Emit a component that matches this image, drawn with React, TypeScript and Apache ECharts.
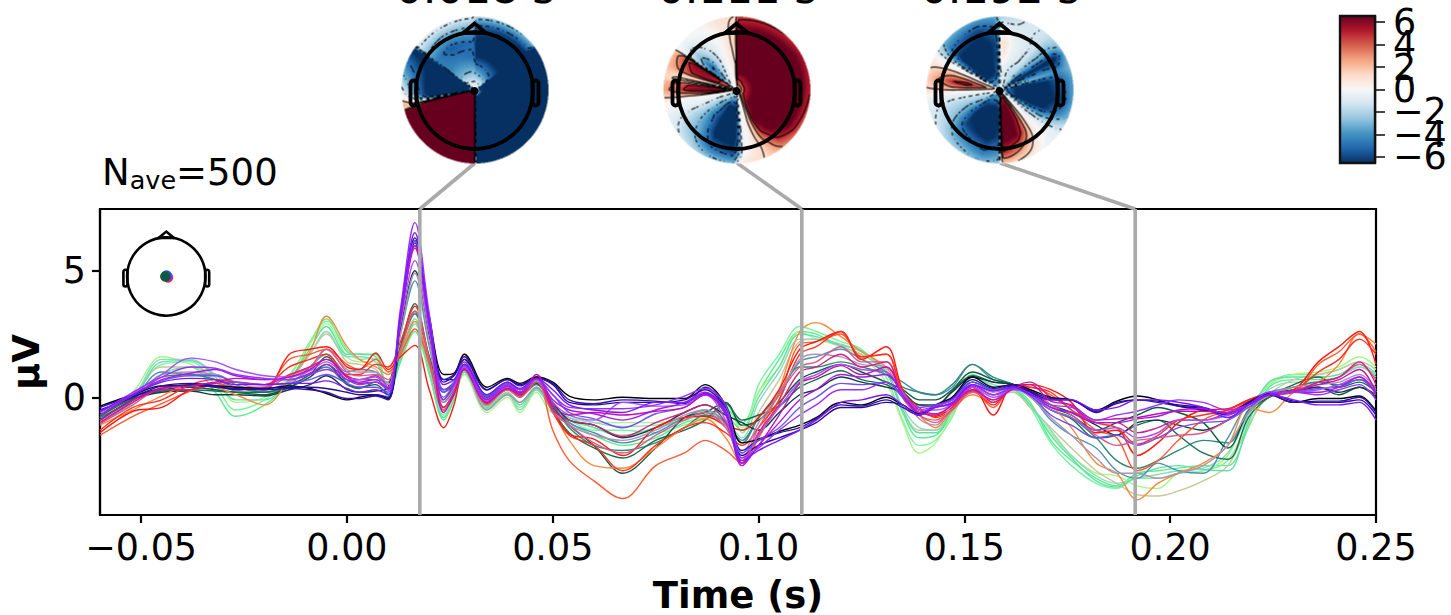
import React, { useEffect, useRef } from "react";
import * as echarts from "echarts";

const times = [-.06,-.052,-.045,-.038,-.032,-.027,-.02,-.014,-.009,-.005,0,.003,.007,.01,.013,.0165,.02,.0235,.026,.0285,.034,.039,.042,.046,.05,.054,.06,.067,.075,.082,.087,.092,.096,.1,.105,.11,.114,.12,.125,.131,.135,.139,.143,.147,.152,.157,.162,.166,.171,.176,.182,.187,.192,.197,.202,.208,.214,.219,.224,.23,.236,.241,.246,.25];

const green = [-1.0,-.2,.9,1.2,.2,-.75,-.3,.6,2.1,3.1,1.8,1.7,1.7,0,1.4,2.6,.9,-.9,-.1,1.1,-.35,.2,-.2,.4,-.4,-1,-1.5,-1.9,-1.6,-1.0,-.8,-.5,-1,.2,1.5,2.6,2.5,2,1.7,1.0,-.6,-1.6,-1.5,-.7,.5,.3,.3,-.2,-1.7,-2.5,-3.2,-3.5,-3.0,-2.9,-2.8,-2.7,-2.7,-1.2,.4,.7,.7,.8,1.2,.8];
const lightGreen = [-.9,0,1.3,1.4,.5,-.5,-.1,.8,2.2,3.0,1.9,1.5,1.55,-.1,1.6,3.0,1.1,-.7,0,1.0,-.5,.1,-.4,.3,-.5,-.9,-1.3,-1.3,-1.4,-1.1,-.9,-.3,-1.4,.5,1.7,2.8,2.6,2.2,1.9,.8,-.9,-1.9,-1.7,-.8,.7,.3,.3,-.4,-1.8,-2.7,-3.4,-3.6,-3.2,-3.2,-3.0,-2.9,-2.5,-.9,.5,.9,.9,1.1,1.4,1.1];
const lime = [-.8,.2,1.6,1.3,.7,-.2,0,.9,2.1,2.9,1.6,1.4,1.4,.2,1.6,3.1,1,-.8,-.1,.9,-.6,0,-.6,.2,-.6,-.6,-1.0,-1.0,-1.0,-.9,-.9,-.6,-1.2,.2,1.2,2.6,2.3,2,1.6,.6,-1.0,-2.2,-1.8,-.7,.6,.3,.2,-.4,-1.4,-2.3,-3.0,-3.1,-3.5,-3.6,-3.0,-2.9,-2.3,-.5,.5,.9,1,1.2,1.6,1.2];
const khaki = [-.8,.1,1.2,1.2,.9,.3,.1,.7,1.7,2.5,1.4,1.3,1.1,.4,1.8,3.3,1.3,-.4,.2,1.0,-.4,.2,-.3,.4,-.5,-.9,-1.2,-1.5,-1.2,-.9,-.7,-1.2,-1.8,-.6,.7,2.2,2.3,2,1.7,1,-.5,-1.3,-1.3,-.6,.2,.1,.2,-.4,-1.2,-2.0,-2.9,-3.4,-3.85,-3.9,-3.7,-3.3,-2.7,-1.1,.1,.7,.9,1.1,1.4,1.1];
const mint = [-.9,0,1.5,1.5,.9,.2,.1,.7,1.7,2.6,1.6,1.6,1.4,.3,1.7,3.1,1.2,-.6,.1,1,-.45,.1,-.5,.3,-.5,-.8,-1,-1.15,-1.1,-.9,-.6,-.9,-1.6,-.2,1,2.3,2.3,2.1,1.8,1.1,-.4,-1.2,-1.3,-.4,.8,.5,.3,-.3,-1.3,-2.3,-3.1,-3.4,-3.2,-3.05,-2.9,-2.8,-2.2,-.7,.3,.6,.6,.8,1.2,.9];
const seafoam = [-.9,-.1,1.4,1.45,.8,-.1,-.1,.7,1.9,2.8,1.7,1.7,1.6,.1,1.5,2.9,1,-.8,-.1,1.0,-.4,.15,-.3,.35,-.45,-.8,-1.2,-1.55,-1.2,-.9,-.55,-.7,-1.3,0,1.2,2.5,2.4,2.05,1.85,1.0,-.5,-1.4,-1.4,-.5,.9,.4,.3,-.3,-1.5,-2.4,-3.3,-3.55,-3.1,-2.8,-2.7,-2.85,-2.9,-1,.6,.8,.8,.9,1.3,.95];
const steel = [-1.0,-.1,1.0,.9,.9,.5,.2,.5,1.2,1.7,1.0,1.1,1,.5,2.5,4.6,2,0,.5,1.2,-.1,.4,.1,.55,-.2,-1,-1.4,-1.8,-1.4,-.8,-.5,-1,-1.8,-.8,.2,1.4,1.6,1.9,1.5,1.0,.6,.2,.1,.4,1.3,.7,.5,.1,-.9,-1.5,-2,-2.9,-3.2,-2.6,-2.9,-3,-1.6,-.2,.2,.4,.6,.5,.7,.3];
const tealGreen = [-.8,-.1,.8,.9,.7,.4,.2,.4,.9,1.2,.6,.7,.7,.6,2.0,3.3,1.6,-.2,.3,1.1,-.2,.35,.05,.5,-.3,-1.2,-1.9,-2.1,-1.8,-1.2,-.7,-1.0,-1.7,-.8,.1,1.2,1.2,1.4,1.2,.9,.4,.2,.1,.5,1.3,.8,.5,.1,-.5,-.8,-1.6,-2.5,-2.8,-2.5,-2.1,-1.7,-1.8,-.5,.1,.4,.6,.5,.7,.4];
const darkGreen = [-.7,0,.3,.4,.3,.2,.1,.4,.8,1.3,.5,.4,.5,.1,1.9,3.4,1.4,.3,.6,1.3,0,.5,.1,.55,-.4,-1.1,-1.9,-3,-2.0,-.8,-.6,-.2,-1.1,-.9,-.2,.7,1.0,1.3,1.0,.6,.3,-.1,-.1,.3,1.0,.7,.5,.1,-.4,-.7,-1.3,-1.0,-.7,-.4,-.6,-1.0,-2.0,-.6,0,.2,.4,.1,.4,.1];
const forest = [-.75,-.05,.25,.3,.25,.2,.2,.5,.9,1.6,.55,.35,.6,.3,2.0,3.7,1.6,.2,.5,1.3,.05,.5,.1,.6,-.5,-1.4,-2.0,-2.4,-1.7,-1.3,-.9,-.25,-.9,-.7,-.35,.4,.7,1.05,.7,.5,.1,-.3,-.35,.25,.85,.6,.5,.05,-.5,-.85,-1.6,-1.5,-1.1,-.9,-1.5,-2.2,-2.45,-.8,0,.5,.8,.4,.6,.2];
const darkTeal = [-.9,-.1,.2,.25,.1,.1,.05,.3,.5,.85,.3,.2,.25,.4,2.7,5,2.4,.7,.7,1.5,.1,.6,.3,.6,-.2,-.9,-1.1,-1.6,-1.2,-.6,-.3,-.7,-1.0,-1.3,-.6,.1,.3,.8,.6,.4,.2,-.3,-.3,.2,.8,.6,.5,.2,-.3,-.6,-1.1,-1.5,-1.0,-.9,-1.1,-1.3,-.9,-.3,.1,.3,.4,.2,.4,0];
const orange = [-1.1,-.5,.05,.5,.4,.1,-.3,.7,1.8,3.2,2.0,1.5,1.2,.9,1.8,3.0,1.4,-.5,.2,1.7,-.2,.5,.1,.7,-.5,-1.7,-2.7,-2.8,-2.0,-1.2,-.85,-1.6,-2.6,-1.5,.3,2.6,2.95,2.4,1.8,1.2,.1,-.7,-1.2,-.5,.1,-.2,.4,.3,-.3,-1.2,-2.6,-3.0,-4.05,-3.4,-3,-2.6,-1.9,-.4,-.6,.2,.6,1.3,2.5,2.1];
const orangeRed = [-1.5,-.75,-.25,.25,.55,.35,.4,1.5,1.7,1.9,1.3,1.1,1.5,1.0,1.7,2.7,1.3,-.5,.1,1.4,-.3,.45,.1,.7,-1.3,-2.5,-3.3,-4,-2.7,-2.2,-1.7,-2.1,-2.6,-1.6,-.1,2.1,2.2,2.5,1.6,1.7,0,-.7,-.9,-.5,.3,-.4,.4,.4,.1,-.5,-1.3,-1.6,-2.9,-2.5,-1.7,-.9,-.5,-.1,.1,.2,1.3,1.8,2.5,1.8];
const red = [-1.4,-.55,-.4,.3,.45,.4,.3,1.7,1.9,2.0,1.2,1.1,1.75,1.1,1.6,2.05,.3,-1.2,-.3,1.1,-.25,.3,0,.8,-.5,-1.45,-1.65,-2.3,-1.2,-.8,-.75,-1.1,-1.3,-.8,.3,1.9,2.2,2.6,1.5,2.0,.3,-.5,-.75,-.4,.4,-.7,.5,.5,.3,-.2,-1.4,-1.3,-2.3,-1.8,-1.0,-.5,-.45,-.1,.15,.3,1.4,2.0,2.6,1.3];
const scarlet = [-1.3,-.4,-.1,.5,.7,.6,.5,1.2,1.5,1.7,.9,.9,1.3,1.2,2.2,3.6,1.5,-.4,.2,1.3,-.2,.4,.1,.75,-.6,-1.5,-1.9,-2.9,-1.9,-1.2,-1.0,-1.4,-1.9,-1.2,-.1,1.7,2,2.6,1.6,1.7,.2,-.4,-.8,-.5,.25,-.3,.5,.4,.2,-.5,-1,-1.2,-1.85,-1.5,-.9,-.7,-.5,-.15,.05,.25,1.0,1.5,2.3,1.7];
const mauve = [-1.0,-.2,.9,1.0,.9,.6,.3,.6,1.1,1.9,1.1,1.0,1,.5,2.5,4.9,2.2,-.2,.2,1.1,-.5,.1,-.2,.4,-.5,-1.1,-1.5,-1.7,-1.3,-.7,-.5,-1.1,-2.2,-1,.1,1.5,1.7,1.6,1.3,1.2,.1,-.85,-1.1,-.3,.5,.2,.35,0,-.8,-1.5,-2.4,-3,-3.0,-3.2,-3.0,-2.7,-1.9,-.6,.1,.4,.5,.6,.9,.3];
const pink = [-1.05,-.3,.4,.5,.55,.4,.4,.85,1.2,1.9,1,.85,.9,.7,1.9,3.4,1.5,-.5,.15,1.15,-.3,.3,0,.6,-.6,-1.1,-1.8,-2.2,-1.5,-.9,-.6,-1.2,-2.4,-1.2,.1,1.2,1.4,2,1.4,1.4,0,-.7,-1.0,-.5,.2,-.1,.4,.3,-.3,-.7,-1.5,-1.9,-1.7,-1.6,-1.5,-1.4,-.9,-.3,.1,.25,.6,.8,1.3,.7];
const rose = [-1.0,-.2,.3,.3,.55,.6,.5,.9,1.2,1.5,.85,.7,.85,.4,3.1,5.9,2.7,-.4,.2,1.15,-.2,.35,.1,.75,-.5,-.9,-1.1,-1.55,-1,-.6,-.3,-1,-2.6,-1.4,-.3,1,1.2,1.7,1.2,1.4,0,-.5,-.65,-.3,.4,-.2,.4,.6,0,-.35,-1,-1,-1.4,-1.2,-.9,-.9,-.6,-.2,.1,.2,.6,.8,1.4,.5];
const black = [-.35,.1,.45,.45,.45,.4,.35,.45,.35,.15,-.1,0,.1,-.05,3.0,6.2,3.2,.9,.95,1.7,.4,.75,.55,.8,.6,.05,-.1,0,-.05,-.05,.5,-.3,-1.8,-1.65,-1.35,-1.1,-.8,-.2,-.3,0,-.3,-.65,-.3,0,.8,.4,.5,.3,0,-.1,-.5,-.15,.05,-.1,-.35,-.5,-.65,-.2,.1,-.2,-.05,-.05,.05,-.55];
const indigo = [-.4,.05,.35,.5,.4,.35,.3,.35,.3,.2,-.05,-.05,.05,-.1,3.1,6.1,3.1,.7,.9,1.6,.3,.7,.45,.75,.55,-.1,-.25,-.1,-.15,-.25,.4,-.4,-2.1,-1.7,-1.4,-1.2,-.85,-.3,-.35,-.1,-.4,-.7,-.35,-.05,.7,.35,.5,.25,-.05,-.1,-.55,-.25,-.1,-.2,-.35,-.45,-.7,-.25,.1,-.2,-.15,-.15,0,-.6];
const navy = [-.5,0,.45,.55,.45,.3,.35,.4,.4,.35,.2,.1,.1,0,3.2,6.3,3,.6,.85,1.5,.3,.7,.5,.75,.5,-.2,-.3,-.2,-.2,-.1,.3,-.5,-2.3,-1.9,-1.6,-1.3,-1,-.4,-.4,-.2,-.3,-.7,-.35,-.1,.6,.3,.45,.2,-.1,-.1,-.6,-.2,-.1,-.15,-.3,-.4,-.65,-.2,.15,-.15,-.2,-.2,-.1,-.7];
const blueViolet = [-.6,.1,.65,.85,.85,.6,.5,.55,.7,.9,.55,.4,.4,.2,3.2,6.2,2.8,.2,.6,1.4,.05,.55,.2,.7,.1,-.6,-.85,-1.2,-.65,-.4,.1,-.5,-2.2,-1.7,-1.2,-.4,0,.55,.5,.6,0,-.5,-.35,-.1,.6,.3,.4,.1,-.7,-1.1,-1.6,-1.5,-1.9,-1.6,-1.2,-1,-.9,-.4,.1,.2,.35,.4,.7,.2];
const lilac = [-.7,.15,.9,1.55,1.4,1.1,.85,.8,1.05,1.4,.8,.7,.8,.4,2.9,5.4,2.6,-.1,.4,1.2,-.15,.4,.2,.7,-.2,-.7,-.9,-.2,-.35,-.3,.1,-.9,-2.5,-1.5,-.4,.6,.9,1.3,1.1,1.0,.2,-.5,-.5,-.3,.4,0,.3,.1,-.5,-.8,-1.3,-1.2,-1.6,-1.4,-.9,-.9,-.7,-.3,.1,.2,.3,.5,.8,.2];
const magenta = [-.9,-.1,.35,.45,.6,.75,.7,.8,1.1,1.5,.8,.55,.6,.35,3.1,6.0,3,-.6,.1,1.1,-.2,.35,.15,.9,-.3,-.7,-.6,-.7,-.55,-.4,.1,-.7,-2.6,-1.9,-.7,.55,.8,1.25,.9,1.2,.1,-.6,-.7,-.3,.3,-.1,.35,.5,-.15,-.3,-.9,-.85,-.8,-.65,-.55,-.55,-.6,-.3,.1,.25,.5,.7,1.1,.2];
const purple = [-.7,.1,.7,.95,1.1,.85,.7,.7,.95,1.3,.7,.6,.7,.3,3.1,6.0,2.8,-.1,.5,1.3,-.1,.45,.2,.75,-.1,-.5,-.65,-.9,-.5,-.2,.2,-.6,-2.7,-1.9,-1,-.1,.3,.9,.8,.9,.1,-.6,-.4,-.25,.45,.1,.35,.15,-.4,-.6,-1.0,-1.0,-.85,-.75,-.5,-.45,-.65,-.3,.1,.2,.2,.4,.8,.1];
const violet = [-.6,.2,.8,1.2,1.15,.9,.75,.7,.9,1.1,.7,.5,.6,.3,3.5,6.9,3.3,.3,.5,1.25,-.05,.5,.3,.75,.1,-.4,-.45,-.45,-.3,.05,.35,-.3,-2.4,-2.0,-1.3,-.7,-.3,.3,.3,.6,.1,-.4,-.3,-.1,.5,.1,.35,.1,-.3,-.4,-.9,-.7,-.55,-.3,-.1,-.2,-.5,-.3,.2,.2,.1,.3,.5,-.1];
const electric = [-.55,.1,.6,.75,.7,.5,.5,.55,.55,.65,.35,.2,.3,.1,3.3,6.5,3,.5,.7,1.3,.1,.6,.35,.75,.3,-.3,-.5,-.6,-.2,-.2,.15,-.6,-2.5,-2.1,-1.7,-1.3,-.9,-.2,-.1,.1,-.3,-.7,-.4,-.2,.5,.25,.4,.1,-.1,-.1,-.5,-.4,-.1,-.1,-.2,-.4,-.8,-.3,.1,-.1,-.3,-.3,-.2,-.9];

const traceValues = [green, lightGreen, lime, khaki, mint, seafoam, steel, tealGreen, darkGreen, forest, darkTeal, orange, orangeRed, red, scarlet, mauve, pink, rose, black, indigo, navy, blueViolet, lilac, magenta, purple, violet, electric];
const traceColors = ["#55f088","#78f5a0","#a8f58a","#c4c89a","#8fd8c0","#60e0a8","#4a8fb8","#2e8a78","#0c5c3c","#17704a","#123a4a","#f58a3c","#ff5a30","#ff1a10","#ff3020","#b090b0","#d85a90","#d02080","#000000","#3010b0","#2a0a9a","#7050f0","#a850f5","#c010b0","#a818e8","#9a30ff","#7a18ff"];

const pickTimes = [0.0177, 0.1105, 0.1915];
const pickTitles = ["0.018 s", "0.111 s", "0.192 s"];
const xTicks = [-0.05, 0, 0.05, 0.1, 0.15, 0.2, 0.25];
const yTicks = [0, 5];
const barTicksA = [-6, -2, 2, 6];
const barTicksB = [-4, 0, 4];

const radii = [0, 0.1, 0.25, 0.45, 0.65, 0.85, 1];
const map1 = [
  [2,0,-1,-3.5,-6.5,-7,-5.5,-2],[52,0,-1.5,-5,-7,-7,-6.5,-3],[55,0,-7,-7,-7,-7,-7,-7],[178.5,0,-7,-7,-7,-7,-7,-7],
  [180.5,0,7,7,7,7,7,7],[252,0,7,7,7,7,7,7],[255,0,7,7,7,6,3,1.5],[258,0,0,-.5,-.5,0,1,2.5],[262,0,-7,-7,-7,-6,-1,1],[266,0,-7,-7,-7,-7,-3,0],
  [304,0,-7,-7,-7,-7,-7,-7],[307,0,-.5,-3,-4.5,-4.5,-2.5,-.5],[330,0,-1,-3,-4.5,-5.5,-3,-.5],[358,0,-1,-3,-5,-5,-3,-.8],
];
const map2 = [
  [1,0,4,7,7,7,6,4.5],[50,0,5,7,7,7,7,5],[60,0,5,7,7,7,7,5.5],[90,0,5,7,7,7,7,5],[125,0,5,7,7,7,6.5,4],[140,0,4,7,7,7,5,3],[150,0,2,5,7,5,2.5,1.8],
  [158,0,.5,1.5,2,1.5,1,1.2],[166,0,-.3,0,.3,.3,.5,1],[174,0,-.8,-1,-.8,-.6,-.2,.6],[178,0,-2,-4,-5,-5,-3.5,.2],[183,0,-3,-7,-7,-7,-6,-3],[205,0,-3,-7,-7,-7,-5,-2.5],
  [222,0,-2,-4,-5,-4,-3,-1.5],[240,0,-1,-2,-2,-2,-1.5,-.8],[252,0,-.3,-.6,-.5,-.5,-.4,-.3],[260,0,.3,.3,0,-.2,0,.2],[265,0,3,5,4,2.5,2,1.5],[270,0,5,7,6.5,6,3.5,2.5],
  [276,0,3,5,5,5,3,2.2],[280,0,1,1,1,1,1,1.5],[285,0,1,1.5,1.5,1.5,1.5,1.5],[290,0,3,5,5.5,5,3,2],[300,0,3,5,6,6,4,2],[302.5,0,2,3,4,4,3,1.5],[304.5,0,-1,-3,-3,-2,-.5,.3],
  [312,0,-1,-4,-5.5,-3,-1,0],[322,0,-.5,-1.5,-2.5,-1.5,-.5,.1],[335,0,0,-.5,-.5,-.3,0,.4],[345,0,.3,.3,.3,.4,.7,1],[358,0,.6,1,1.5,1.8,1.6,1.2],
];
const map3 = [
  [1,0,-1,-1.5,.2,.8,-.5,-2],[7,0,-1,-1,.5,1,-.8,-1.8],[14,0,-1,-.8,-.3,-.2,-1,-1.5],[25,0,-1,-1.5,-.8,-.7,-1,-1],[40,0,-1.5,-2,-1.5,-1.4,-1.5,-1.3],[52,0,-3,-4.5,-4,-3.5,-3.5,-2.5],
  [60,0,-5,-7,-7,-7,-7,-3.5],[66,0,-4,-4.5,-5,-5,-5.5,-3],[72,0,-2,-2.5,-3,-3.5,-4,-3],[80,0,-5,-7,-7,-6.5,-5,-3.5],[100,0,-5,-7,-7,-7,-6,-3.5],[112,0,-4,-7,-7,-6.5,-4.5,-3],
  [120,0,-2,-4,-4.5,-4,-2.5,-1.5],[128,0,-.5,-1,-1.2,-1,-.6,-.6],[135,0,0,-.2,-.2,0,-.2,-.5],[142,0,1,1.5,1.5,1,.3,-.2],[150,0,3,5,5,4,1.5,.3],[160,0,5,7,7,6.5,3,.8],[172,0,5,7,7,7,4.5,1.5],
  [177,0,3,6,7,7,5,1.5],[179,0,0,0,0,0,0,0],[181,0,-3,-6,-6.5,-6,-4,-2.5],[195,0,-4,-7,-7,-7,-5,-3],[225,0,-4,-6,-7,-6,-3.5,-2],[240,0,-2,-3,-3.5,-3,-2,-1.2],[255,0,-.8,-1.5,-1.6,-1.6,-1.2,-.7],
  [265,0,0,0,-.3,-.3,-.2,-.2],[268,0,0,.3,.3,.3,.5,.8],[273,0,1,2,3,3,1.8,1.3],[280,0,2,4,6,5,3,1.5],[287,0,1.5,2,3,3,2,1.2],[295,0,.3,.3,.3,.2,.1,.5],[299,0,-.5,-.8,-.7,-.5,-.5,-.2],
  [303,0,-2.5,-4,-4.5,-4,-2.5,-1.2],[310,0,-4,-7,-7,-7,-5,-3],[340,0,-4,-7,-7,-7,-6,-3.5],[355,0,-3,-5,-6,-6,-5,-3.5],[359,0,-1.5,-2.5,-3.5,-4,-3.5,-2.5],
];
const contourLevels = [-5, -3, -1.2, 1.2, 3, 5];
const rdbu = ["#053061","#2166ac","#4393c3","#92c5de","#d1e5f0","#f7f7f7","#fddbc7","#f4a582","#d6604d","#b2182b","#67001f"];
const V_MAX = 6.55;
const FONT = '"DejaVu Sans"';

function hex(c: string) {
  return [1, 3, 5].map((i) => parseInt(c.slice(i, i + 2), 16));
}
const rdbuRgb = rdbu.map(hex);
function colorOf(v: number) {
  const u = Math.max(0, Math.min(0.99999, (v + V_MAX) / (2 * V_MAX))) * 10;
  const i = Math.floor(u);
  const f = u - i;
  return rdbuRgb[i].map((a, k) => a + (rdbuRgb[i + 1][k] - a) * f);
}
function fieldAt(rows: number[][], deg: number, r: number) {
  const n = rows.length;
  let hi = rows.findIndex((row) => row[0] >= deg);
  if (hi < 0) hi = 0;
  const lo = (hi + n - 1) % n;
  const a0 = rows[lo][0];
  let a1 = rows[hi][0];
  let d = deg;
  if (a1 < a0) {
    a1 += 360;
    if (d < a0) d += 360;
  }
  const fa = a1 === a0 ? 0 : (d - a0) / (a1 - a0);
  let k = 0;
  while (k < radii.length - 2 && r > radii[k + 1]) k++;
  const fr = Math.min(1, (r - radii[k]) / (radii[k + 1] - radii[k]));
  const at = (row: number[]) => row[k + 1] + (row[k + 2] - row[k + 1]) * fr;
  return at(rows[lo]) + (at(rows[hi]) - at(rows[lo])) * fa;
}
function paintMap(rows: number[][]) {
  const S = 294;
  const c = document.createElement("canvas");
  c.width = S;
  c.height = S;
  const g = c.getContext("2d")!;
  const img = g.createImageData(S, S);
  const grid: (number | null)[][] = [];
  for (let y = 0; y <= S; y++) {
    const line: (number | null)[] = [];
    for (let x = 0; x <= S; x++) {
      const dx = (x + 0.5 - S / 2) / (S / 2);
      const dy = (y + 0.5 - S / 2) / (S / 2);
      const r = Math.hypot(dx, dy);
      if (r > 1) {
        line.push(null);
        continue;
      }
      let deg = (Math.atan2(dx, -dy) * 180) / Math.PI;
      if (deg < 0) deg += 360;
      const v = fieldAt(rows, deg, r);
      line.push(v);
      if (x < S && y < S) {
        const [R, G, B] = colorOf(v);
        const o = (y * S + x) * 4;
        img.data[o] = R;
        img.data[o + 1] = G;
        img.data[o + 2] = B;
        img.data[o + 3] = 255;
      }
    }
    grid.push(line);
  }
  g.putImageData(img, 0, 0);
  g.strokeStyle = "#000";
  g.lineWidth = 2.2;
  for (const lev of contourLevels) {
    g.beginPath();
    for (let y = 0; y < S; y += 2) {
      for (let x = 0; x < S; x += 2) {
        const a = grid[y][x], b = grid[y][x + 2], cc = grid[y + 2][x + 2], d = grid[y + 2][x];
        if (a == null || b == null || cc == null || d == null) continue;
        if (lev < 0 && (Math.floor(x / 7) + Math.floor(y / 7)) % 2) continue;
        const pts: number[][] = [];
        const cross = (p: number, q: number, x0: number, y0: number, x1: number, y1: number) => {
          if ((p < lev) !== (q < lev)) {
            const f = (lev - p) / (q - p);
            pts.push([x0 + (x1 - x0) * f, y0 + (y1 - y0) * f]);
          }
        };
        cross(a, b, x, y, x + 2, y);
        cross(b, cc, x + 2, y, x + 2, y + 2);
        cross(cc, d, x + 2, y + 2, x, y + 2);
        cross(d, a, x, y + 2, x, y);
        for (let i = 0; i + 1 < pts.length; i += 2) {
          g.moveTo(pts[i][0], pts[i][1]);
          g.lineTo(pts[i + 1][0], pts[i + 1][1]);
        }
      }
    }
    g.stroke();
  }
  return c.toDataURL("image/png");
}

function headShapes(cx: number, cy: number, r: number, w: number) {
  const k = r / 58.5;
  const line = { stroke: "#000", lineWidth: w, fill: "none" };
  return [
    { type: "circle", z: 20, shape: { cx, cy, r }, style: { ...line } },
    { type: "polyline", z: 20, shape: { points: [[cx - 12 * k, cy - 57 * k], [cx, cy - 67 * k], [cx + 12 * k, cy - 57 * k]] }, style: { ...line } },
    { type: "line", z: 20, shape: { x1: cx - 12 * k, y1: cy - 57.5 * k, x2: cx + 12 * k, y2: cy - 57.5 * k }, style: { ...line } },
    { type: "rect", z: 20, shape: { x: cx - 64 * k, y: cy - 10 * k, width: 6 * k, height: 25 * k, r: 3 * k }, style: { ...line } },
    { type: "rect", z: 20, shape: { x: cx + 58 * k, y: cy - 10 * k, width: 6 * k, height: 25 * k, r: 3 * k }, style: { ...line } },
  ];
}

export default function App() {
  const ref = useRef<HTMLDivElement>(null);
  useEffect(() => {
    const chart = echarts.init(ref.current!, null, { renderer: "svg" });
    const centers = [475, 737, 1000];
    const mapRows = [map1, map2, map3];
    const plotTop = 209;
    const plotLeft = 100;
    const plotW = 1276;
    const barLeft = 1340;
    const barW = 35;
    const xToPx = (t: number) => plotLeft + ((t + 0.06) / 0.31) * plotW;
    const graphics: any[] = [];
    centers.forEach((cx, i) => {
      graphics.push({ type: "image", z: 10, style: { image: paintMap(mapRows[i]), x: cx - 73.5, y: 16.5, width: 147, height: 147 } });
      graphics.push(...headShapes(cx - 0.5, 90.5, 58.5, 3.8));
      graphics.push({ type: "circle", z: 21, shape: { cx: cx - 0.5, cy: 91, r: 4 }, style: { fill: "#000" } });
      graphics.push({
        type: "text", z: 21,
        style: { text: pickTitles[i], x: cx, y: -12, fontSize: 43, fontFamily: FONT, fill: "#000", align: "center", verticalAlign: "middle" },
      });
      graphics.push({
        type: "line", z: 5,
        shape: { x1: cx, y1: 163, x2: xToPx(pickTimes[i]), y2: plotTop },
        style: { stroke: "#aaaaaa", lineWidth: 3.6 },
      });
    });
    graphics.push(...headShapes(166.3, 276.5, 39.2, 2.6));
    [["#ff2020", 168, 277.5], ["#a020f0", 167.3, 276.5], ["#3050ff", 166.5, 275.5], ["#0d5a3c", 165.3, 276.5]].forEach(([fill, x, y]) => {
      graphics.push({ type: "circle", z: 22, shape: { cx: x, cy: y, r: 5.2 }, style: { fill } });
    });
    graphics.push({
      type: "text", z: 22,
      style: {
        text: "{a|N}{b|ave}{a|=500}", x: 102, y: 172, verticalAlign: "middle", align: "left", fill: "#000",
        rich: {
          a: { fontSize: 37, fontFamily: FONT, fill: "#000", lineHeight: 42 },
          b: { fontSize: 25.5, fontFamily: FONT, fill: "#000", verticalAlign: "bottom", lineHeight: 26 },
        },
      },
    });
    graphics.push({ type: "rect", z: 22, shape: { x: barLeft, y: 16, width: barW, height: 147 }, style: { fill: "none", stroke: "#111", lineWidth: 2.4 } });

    const tickStyle = { length: 8, lineStyle: { color: "#000", width: 2.2 } };
    const minus = (s: string) => s.replace("-", "\u2212");
    const traceSeries = traceValues.map((vals, i) => ({
      type: "line", xAxisIndex: 0, yAxisIndex: 0, showSymbol: false, smooth: 0.35, silent: true,
      lineStyle: { color: traceColors[i], width: 1.4 },
      data: vals.map((v, j) => [times[j], v]),
    }));
    const pickSeries = pickTimes.map((t) => ({
      type: "line", xAxisIndex: 0, yAxisIndex: 0, showSymbol: false, silent: true,
      lineStyle: { color: "#aaaaaa", width: 3.6 },
      data: [[t, -4.65], [t, 7.44]],
    }));
    const barAxis = (ticks: number[]) => ({
      type: "value", gridIndex: 1, position: "right", min: -V_MAX, max: V_MAX,
      axisLine: { show: true, onZero: false, lineStyle: { color: "#111", width: 2.2 } },
      axisTick: { show: true, length: 10, lineStyle: { color: "#333", width: 1.8 }, customValues: ticks },
      axisLabel: { customValues: ticks, fontSize: 36.5, color: "#000", margin: 18, fontFamily: FONT, align: "left", showMinLabel: true, showMaxLabel: true, hideOverlap: false, formatter: (v: number) => minus(String(v)) },
      splitLine: { show: false },
    });
    chart.setOption({
      animation: false,
      backgroundColor: "#fff",
      textStyle: { fontFamily: FONT },
      grid: [
        { left: plotLeft, top: plotTop, width: plotW, height: 307, show: true, borderColor: "#000", borderWidth: 2.2, backgroundColor: "transparent" },
        { left: barLeft, top: 16, width: barW, height: 147, show: false },
      ],
      xAxis: [
        {
          type: "value", gridIndex: 0, min: -0.06, max: 0.25, name: "Time (s)", nameLocation: "middle", nameGap: 62,
          nameTextStyle: { fontSize: 37, fontWeight: "bold", color: "#000", fontFamily: FONT },
          axisLine: { show: true, onZero: false, lineStyle: { color: "#000", width: 2.2 } },
          axisTick: { ...tickStyle, customValues: xTicks },
          axisLabel: { customValues: xTicks, fontSize: 36.5, color: "#000", margin: 14, fontFamily: FONT, showMinLabel: true, showMaxLabel: true, formatter: (v: number) => minus(v.toFixed(2)) },
          splitLine: { show: false },
        },
        { type: "value", gridIndex: 1, min: 0, max: 1, show: false },
      ],
      yAxis: [
        {
          type: "value", gridIndex: 0, min: -4.65, max: 7.44, name: "\u00b5V", nameLocation: "middle", nameGap: 55, nameRotate: 90,
          nameTextStyle: { fontSize: 37, fontWeight: "bold", color: "#000", fontFamily: FONT },
          axisLine: { show: true, onZero: false, lineStyle: { color: "#000", width: 2.2 } },
          axisTick: { ...tickStyle, customValues: yTicks },
          axisLabel: { customValues: yTicks, fontSize: 36.5, color: "#000", margin: 14, fontFamily: FONT },
          splitLine: { show: false },
        },
        barAxis(barTicksA),
        barAxis(barTicksB),
      ],
      series: [
        ...traceSeries,
        ...pickSeries,
        {
          type: "custom", xAxisIndex: 1, yAxisIndex: 1, silent: true,
          data: [[0, -V_MAX, 1, V_MAX]],
          renderItem: (_: any, api: any) => {
            const a = api.coord([api.value(0), api.value(1)]);
            const b = api.coord([api.value(2), api.value(3)]);
            return {
              type: "rect",
              shape: { x: a[0], y: b[1], width: b[0] - a[0], height: a[1] - b[1] },
              style: {
                fill: new echarts.graphic.LinearGradient(0, 1, 0, 0, rdbu.map((color, i) => ({ offset: i / 10, color }))),
              },
            };
          },
        },
      ],
      graphic: graphics,
    });
    return () => chart.dispose();
  }, []);
  return <div ref={ref} style={{ position: "fixed", left: 0, top: 0, width: 1451, height: 615 }} />;
}
